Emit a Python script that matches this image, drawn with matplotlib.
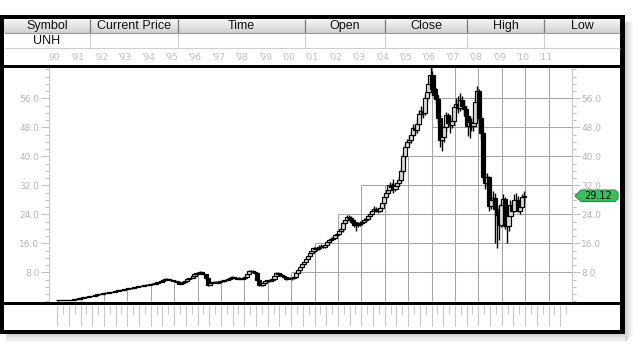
import matplotlib
matplotlib.use('Agg')
import matplotlib.pyplot as plt
from matplotlib.patches import Rectangle, Polygon
from matplotlib import transforms
from matplotlib.ticker import FixedLocator, MultipleLocator
import numpy as np

# UNH monthly candles, Jan 1990 .. Dec 2009 (one line per year)
open_px = [
    0.24, 0.25, 0.27, 0.30, 0.33, 0.36, 0.40, 0.45, 0.48, 0.52, 0.60, 0.70,
    0.80, 0.90, 1.05, 1.15, 1.25, 1.40, 1.50, 1.60, 1.75, 1.90, 2.00, 2.15,
    2.30, 2.35, 2.40, 2.50, 2.55, 2.60, 2.75, 2.90, 3.00, 3.10, 3.20, 3.35,
    3.50, 3.55, 3.60, 3.75, 3.85, 3.95, 4.10, 4.20, 4.30, 4.40, 4.50, 4.60,
    4.70, 4.80, 4.90, 5.05, 5.20, 5.40, 5.60, 5.90, 6.20, 6.10, 5.90, 5.80,
    5.70, 5.50, 5.20, 4.90, 5.00, 5.40, 5.70, 6.10, 6.30, 6.50, 6.90, 7.40,
    7.80, 7.90, 8.10, 7.60, 7.40, 6.30, 4.60, 5.00, 5.20, 5.40, 5.10, 5.30,
    5.50, 5.60, 5.80, 5.90, 6.10, 6.40, 6.60, 6.50, 6.30, 6.20, 6.40, 6.20,
    6.30, 6.80, 7.60, 8.30, 8.40, 8.10, 7.90, 5.80, 4.60, 4.50, 5.00, 5.60,
    5.80, 5.70, 5.90, 6.20, 6.90, 7.70, 7.60, 7.30, 7.00, 6.60, 6.20, 6.40,
    6.50, 6.30, 6.80, 7.70, 8.60, 9.50, 10.30, 10.80, 11.80, 12.60, 13.30, 14.00,
    14.60, 14.30, 14.60, 15.00, 15.20, 15.00, 15.60, 16.40, 16.80, 17.30, 17.60, 18.20,
    18.60, 19.30, 20.00, 21.50, 22.30, 23.30, 23.00, 22.40, 21.80, 21.00, 21.40, 21.20,
    21.70, 21.90, 22.50, 22.80, 23.50, 24.20, 24.80, 25.60, 25.30, 25.00, 25.80, 27.00,
    28.80, 29.80, 30.80, 32.00, 31.50, 31.00, 31.80, 32.50, 33.50, 36.00, 40.00, 42.50,
    44.00, 44.50, 46.00, 47.70, 47.20, 49.00, 51.80, 52.50, 52.00, 56.00, 57.70, 60.00,
    62.30, 58.50, 57.00, 55.80, 50.50, 44.50, 45.20, 48.00, 51.50, 49.20, 48.60, 49.80,
    53.60, 54.50, 53.20, 55.50, 54.00, 53.00, 51.00, 48.40, 49.50, 48.40, 49.20, 55.00,
    58.00, 50.50, 46.40, 34.40, 32.60, 34.20, 26.30, 28.00, 28.50, 25.40, 23.70, 21.00,
    26.60, 28.30, 20.80, 20.90, 23.50, 26.70, 25.00, 28.00, 27.90, 25.00, 26.00, 28.80,
]
high_px = [
    0.27, 0.29, 0.32, 0.35, 0.38, 0.43, 0.47, 0.51, 0.56, 0.63, 0.74, 0.84,
    0.95, 1.10, 1.22, 1.32, 1.46, 1.57, 1.68, 1.82, 1.98, 2.10, 2.25, 2.42,
    2.50, 2.52, 2.60, 2.66, 2.72, 2.88, 3.02, 3.12, 3.22, 3.34, 3.50, 3.66,
    3.75, 3.72, 3.88, 3.98, 4.10, 4.25, 4.35, 4.45, 4.55, 4.66, 4.76, 4.88,
    4.98, 5.08, 5.22, 5.38, 5.58, 5.80, 6.10, 6.45, 6.40, 6.25, 6.05, 5.95,
    5.85, 5.65, 5.35, 5.15, 5.55, 5.88, 6.30, 6.50, 6.70, 7.10, 7.62, 8.05,
    8.20, 8.40, 8.20, 7.80, 7.50, 6.40, 5.20, 5.35, 5.60, 5.55, 5.45, 5.70,
    5.80, 6.00, 6.10, 6.30, 6.60, 6.85, 6.80, 6.65, 6.50, 6.60, 6.55, 6.50,
    6.95, 7.80, 8.50, 8.70, 8.55, 8.30, 8.10, 6.00, 4.90, 5.20, 5.80, 6.00,
    6.00, 6.10, 6.40, 7.10, 7.95, 7.95, 7.80, 7.50, 7.15, 6.80, 6.60, 6.75,
    6.70, 7.00, 7.95, 8.90, 9.80, 10.60, 11.10, 12.10, 12.90, 13.70, 14.40, 15.10,
    15.00, 14.90, 15.40, 15.70, 15.60, 15.90, 16.80, 17.30, 17.80, 18.10, 18.60, 19.10,
    19.70, 20.40, 22.30, 22.80, 23.80, 23.90, 23.40, 22.90, 22.30, 22.00, 22.00, 22.20,
    22.50, 23.00, 23.40, 24.00, 24.80, 25.40, 26.20, 26.10, 25.80, 26.30, 27.50, 29.30,
    30.50, 31.50, 33.00, 32.60, 33.80, 32.50, 33.30, 34.20, 36.80, 41.00, 43.50, 44.80,
    45.50, 47.00, 48.80, 48.50, 50.00, 52.80, 53.80, 53.50, 56.80, 58.80, 61.00, 64.50,
    63.50, 60.50, 58.80, 56.50, 51.50, 46.80, 49.00, 52.30, 52.00, 50.50, 51.00, 54.20,
    56.00, 56.50, 57.50, 56.50, 55.50, 54.00, 51.50, 51.00, 50.50, 50.80, 56.00, 59.50,
    58.50, 51.00, 47.00, 35.50, 35.50, 34.50, 29.00, 30.50, 30.00, 26.50, 25.00, 27.50,
    29.50, 28.80, 22.50, 25.00, 28.00, 27.50, 29.50, 30.00, 29.00, 27.50, 29.50, 30.50,
]
low_px = [
    0.22, 0.24, 0.26, 0.29, 0.32, 0.35, 0.39, 0.43, 0.46, 0.50, 0.58, 0.68,
    0.77, 0.86, 1.00, 1.10, 1.20, 1.34, 1.44, 1.55, 1.70, 1.84, 1.94, 2.08,
    2.20, 2.25, 2.32, 2.42, 2.46, 2.52, 2.66, 2.82, 2.90, 3.00, 3.10, 3.26,
    3.38, 3.42, 3.50, 3.64, 3.75, 3.85, 4.00, 4.10, 4.18, 4.28, 4.38, 4.48,
    4.58, 4.68, 4.78, 4.92, 5.08, 5.28, 5.48, 5.78, 5.92, 5.75, 5.62, 5.52,
    5.35, 5.05, 4.75, 4.78, 4.90, 5.28, 5.60, 5.98, 6.18, 6.38, 6.78, 7.25,
    7.55, 7.70, 7.45, 7.20, 6.10, 4.10, 4.40, 4.85, 5.05, 4.95, 5.00, 5.20,
    5.35, 5.45, 5.65, 5.75, 5.95, 6.25, 6.35, 6.15, 6.05, 6.05, 6.05, 6.05,
    6.20, 6.70, 7.50, 8.10, 7.90, 7.70, 5.60, 4.30, 4.10, 4.35, 4.90, 5.45,
    5.45, 5.55, 5.75, 6.05, 6.75, 7.35, 7.10, 6.80, 6.45, 6.00, 6.05, 6.20,
    6.00, 6.10, 6.60, 7.50, 8.40, 9.30, 10.10, 10.60, 11.60, 12.30, 13.00, 13.80,
    13.70, 13.90, 14.20, 14.70, 14.60, 14.80, 15.40, 16.10, 16.40, 16.90, 17.30, 17.90,
    18.30, 19.00, 19.20, 21.20, 22.00, 22.50, 21.70, 21.20, 20.50, 19.40, 20.60, 20.80,
    21.10, 21.50, 22.00, 22.40, 23.20, 23.90, 24.50, 24.70, 24.30, 24.60, 25.50, 26.80,
    28.30, 29.20, 30.30, 30.80, 30.00, 30.50, 31.20, 31.80, 33.00, 35.20, 39.50, 42.00,
    43.00, 43.80, 45.30, 45.80, 46.50, 48.50, 50.80, 50.50, 51.50, 55.00, 56.50, 59.00,
    57.00, 56.20, 54.50, 49.00, 42.50, 41.50, 44.00, 47.00, 48.00, 46.50, 47.80, 49.50,
    52.80, 52.00, 52.50, 53.00, 51.50, 50.20, 45.50, 45.00, 47.00, 47.00, 48.50, 54.00,
    49.50, 44.50, 33.50, 31.00, 31.50, 24.80, 25.50, 26.00, 16.00, 14.60, 17.00, 20.50,
    24.50, 20.00, 16.20, 19.50, 22.80, 23.50, 24.50, 26.50, 24.50, 24.00, 25.50, 27.50,
]
close_px = [
    0.25, 0.27, 0.30, 0.33, 0.36, 0.40, 0.45, 0.48, 0.52, 0.60, 0.70, 0.80,
    0.90, 1.05, 1.15, 1.25, 1.40, 1.50, 1.60, 1.75, 1.90, 2.00, 2.15, 2.30,
    2.35, 2.40, 2.50, 2.55, 2.60, 2.75, 2.90, 3.00, 3.10, 3.20, 3.35, 3.50,
    3.55, 3.60, 3.75, 3.85, 3.95, 4.10, 4.20, 4.30, 4.40, 4.50, 4.60, 4.70,
    4.80, 4.90, 5.05, 5.20, 5.40, 5.60, 5.90, 6.20, 6.10, 5.90, 5.80, 5.70,
    5.50, 5.20, 4.90, 5.00, 5.40, 5.70, 6.10, 6.30, 6.50, 6.90, 7.40, 7.80,
    7.90, 8.10, 7.60, 7.40, 6.30, 4.60, 5.00, 5.20, 5.40, 5.10, 5.30, 5.50,
    5.60, 5.80, 5.90, 6.10, 6.40, 6.60, 6.50, 6.30, 6.20, 6.40, 6.20, 6.30,
    6.80, 7.60, 8.30, 8.40, 8.10, 7.90, 5.80, 4.60, 4.50, 5.00, 5.60, 5.80,
    5.70, 5.90, 6.20, 6.90, 7.70, 7.60, 7.30, 7.00, 6.60, 6.20, 6.40, 6.50,
    6.30, 6.80, 7.70, 8.60, 9.50, 10.30, 10.80, 11.80, 12.60, 13.30, 14.00, 14.60,
    14.30, 14.60, 15.00, 15.20, 15.00, 15.60, 16.40, 16.80, 17.30, 17.60, 18.20, 18.60,
    19.30, 20.00, 21.50, 22.30, 23.30, 23.00, 22.40, 21.80, 21.00, 21.40, 21.20, 21.70,
    21.90, 22.50, 22.80, 23.50, 24.20, 24.80, 25.60, 25.30, 25.00, 25.80, 27.00, 28.80,
    29.80, 30.80, 32.00, 31.50, 31.00, 31.80, 32.50, 33.50, 36.00, 40.00, 42.50, 44.00,
    44.50, 46.00, 47.70, 47.20, 49.00, 51.80, 52.50, 52.00, 56.00, 57.70, 60.00, 62.30,
    58.50, 57.00, 55.80, 50.50, 44.50, 45.20, 48.00, 51.50, 49.20, 48.60, 49.80, 53.60,
    54.50, 53.20, 55.50, 54.00, 53.00, 51.00, 48.40, 49.50, 48.40, 49.20, 55.00, 58.00,
    50.50, 46.40, 34.40, 32.60, 34.20, 26.30, 28.00, 28.50, 25.40, 23.70, 21.00, 26.60,
    28.30, 20.80, 20.90, 23.50, 26.70, 25.00, 28.00, 27.90, 25.00, 26.00, 28.80, 29.12,
]
first_year = 1990

symbol = 'UNH'
header_cols = ['Symbol', 'Current Price', 'Time', 'Open', 'Close', 'High', 'Low']
col_edges = [3.5, 90, 178, 305, 385, 467, 544, 620]
last_price = 29.12
price_ticks = [8, 16, 24, 32, 40, 48, 56]
year_labels = ['90', "'91", "'92", "'93", "'94", "'95", "'96", "'97", "'98", "'99", "'00",
               "'01", "'02", "'03", "'04", "'05", "'06", "'07", "'08", "'09", "'10", "'11"]
grid_years = list(range(1990, 2012))
# how far up each yearly gridline is drawn (None = full height)
grid_vtop = [0.3, 0.9, 2.3, 3.5, 4.7, 5.7, 7.8, 6.2, 6.4, 5.7, 8, 16, 24, 32, 32, 40,
             None, None, None, None, None, None]
# year from which each price gridline is drawn
grid_hstart = [2000, 2001, 2002, 2003, 2005, 2006, 2006]

W, H = 639, 348
fig = plt.figure(figsize=(W / 100, H / 100), dpi=100)
fig.patch.set_facecolor('white')

# chart area in pixels: x 49..572, y 67.5..302
px_per_year = 23.4
x0_pix = 57.1   # pixel of Jan 1990
ax_l, ax_r, ax_t, ax_b = 49, 572, 67.5, 302
ax = fig.add_axes([ax_l / W, 1 - ax_b / H, (ax_r - ax_l) / W, (ax_b - ax_t) / H], zorder=1)
ax.set_xlim(first_year + (ax_l - x0_pix) / px_per_year, first_year + (ax_r - x0_pix) / px_per_year)
ppu = 3.625
ax.set_ylim((301.3 - ax_b) / ppu, (301.3 - ax_t) / ppu)

o = np.array(open_px)
hi = np.array(high_px)
lo = np.array(low_px)
c = np.array(close_px)
t = first_year + (np.arange(len(c)) + 0.5) / 12.0

# grid
gcol = '#a4a4a4'
for yr, top in zip(grid_years, grid_vtop):
    ax.vlines(yr, 0, 70 if top is None else top, color=gcol, lw=0.75, zorder=1)
for lev, start in zip(price_ticks, grid_hstart):
    ax.hlines(lev, start, 2013, color=gcol, lw=0.75, zorder=1)

# candles
ax.vlines(t, lo, hi, color='black', lw=1.0, zorder=3)
body_col = ['#dadada' if cc >= oo else 'black' for oo, cc in zip(o, c)]
ax.bar(t, c - o, bottom=o, width=0.18, color=body_col, edgecolor='black', linewidth=0.85, zorder=4)

ax.yaxis.set_major_locator(FixedLocator(price_ticks))
ax.yaxis.set_minor_locator(MultipleLocator(2))
ax.set_yticklabels(['%.1f' % v for v in price_ticks])
ax.set_xticks([])
ax.tick_params(axis='y', which='both', left=True, right=True, labelleft=True, labelright=True,
               direction='out', color='#c0c0c0', labelcolor='#b4b4b4', labelsize=6.5, pad=0.8)
ax.tick_params(axis='y', which='major', length=6, width=0.8)
ax.tick_params(axis='y', which='minor', length=2.6, width=0.8)
for s in ['left', 'right', 'bottom']:
    ax.spines[s].set_color('#c8c8c8')
    ax.spines[s].set_linewidth(0.8)
ax.spines['top'].set_visible(False)

# overlay in pixel coordinates
ov = fig.add_axes([0, 0, 1, 1], zorder=5)
ov.set_xlim(0, W)
ov.set_ylim(H, 0)
ov.axis('off')
ov.patch.set_alpha(0)
blend = transforms.blended_transform_factory(ax.transData, ov.transData)

# drop shadow
for k in range(8):
    a = 0.28 * (1 - k / 8)
    ov.add_patch(Rectangle((625 + k, 22), 1, 320 - k, color='#606060', alpha=a, lw=0))
    ov.add_patch(Rectangle((6, 334 + k), 619, 1, color='#606060', alpha=a, lw=0))

# header gradient row
n = 14
for k in range(n):
    g = 0.96 - 0.14 * k / (n - 1)
    ov.add_patch(Rectangle((3.5, 19 + k), 616.5, 1.05, color=(g, g, g), lw=0))
ov.hlines(32.7, 3.5, 620, color='#9a9a9a', lw=0.8)
ov.hlines(47.5, 3.5, 620, color='#cfcfcf', lw=0.8)
for e in col_edges[1:-1]:
    ov.vlines(e, 19, 32.5, color='#7a7a7a', lw=0.9)
    ov.vlines(e, 33, 47.5, color='#cfcfcf', lw=0.8)
for i, name in enumerate(header_cols):
    ov.text((col_edges[i] + col_edges[i + 1]) / 2, 26, name, ha='center', va='center',
            fontsize=9, family='Liberation Sans', color='#111111')
ov.text((col_edges[0] + col_edges[1]) / 2, 40.5, symbol, ha='center', va='center',
        fontsize=9, family='Liberation Sans', color='#111111')

# year labels above chart
for yr, lab in zip(grid_years, year_labels):
    ov.text(yr - 3 / px_per_year, 57.5, lab, transform=blend, ha='center', va='center',
            fontsize=6.5, color='#bdbdbd')

# quarter ticks under the chart
qx = first_year + 0.25 * np.arange(88)
ov.vlines(qx[::2], 305, 326, transform=blend, color='#c8c8c8', lw=0.8)
ov.vlines(qx[1::2], 305, 314, transform=blend, color='#c8c8c8', lw=0.8)

# heavy black rules and frame
ov.add_patch(Rectangle((0, 64.5), 622, 3.0, color='black', lw=0))
ov.add_patch(Rectangle((0, 302), 622, 2.5, color='black', lw=0))
ov.add_patch(Rectangle((0, 15), 625, 4, color='black', lw=0))
ov.add_patch(Rectangle((0, 329.5), 625, 4.5, color='black', lw=0))
ov.add_patch(Rectangle((0, 15), 3.5, 319, color='black', lw=0))
ov.add_patch(Rectangle((620, 15), 5, 319, color='black', lw=0))

# last price tag
ty = 301.3 - last_price * ppu
tag = Polygon([(575, ty), (581, ty - 5.7), (615, ty - 5.7), (618, ty - 3), (618, ty + 3),
               (615, ty + 5.7), (581, ty + 5.7)], closed=True,
              facecolor='#3cc060', edgecolor='#24903f', lw=0.8)
ov.add_patch(tag)
ov.text(598, ty + 0.3, '%.2f' % last_price, ha='center', va='center', fontsize=7, color='black')

fig.savefig('out.png', dpi=100)
